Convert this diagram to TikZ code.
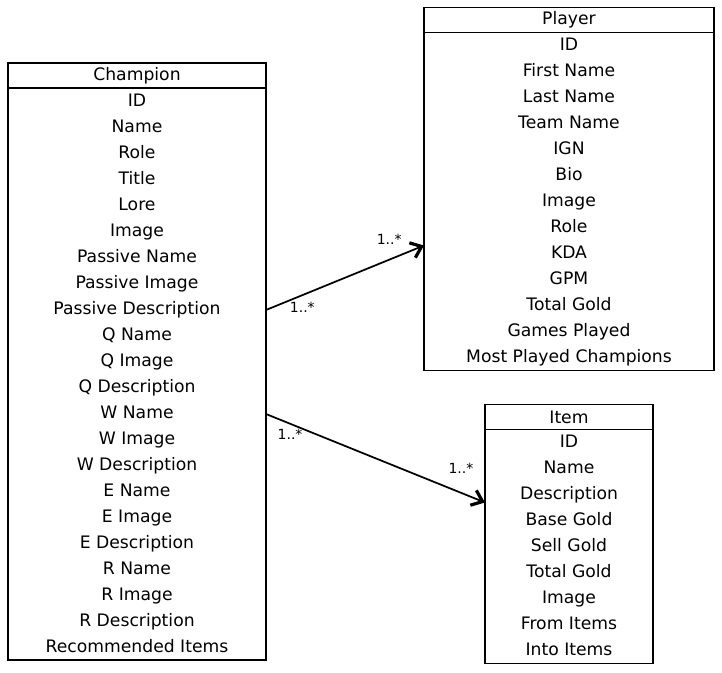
\documentclass[tikz,border=0pt]{standalone}
\usepackage{fontspec}
\setmainfont{DejaVu Sans}
\usepackage{tikz}
\usetikzlibrary{calc, positioning, arrows.meta}

\begin{document}
\begin{tikzpicture}[
    x=0.75pt, y=0.75pt,
    classhead/.style={draw, line width=1.1pt, minimum height=18.75pt,
      inner sep=0pt, outer sep=0pt, font=\fontsize{12.9}{19.5}\selectfont},
    classbody/.style={draw, line width=1.1pt, inner xsep=0pt, inner ysep=0pt,
      outer sep=0pt, align=center, font=\fontsize{12.9}{19.5}\selectfont},
    assoc/.style={line width=1.3pt, -{Straight Barb[length=7.5pt,width=12pt,line width=2.4pt]}},
    mult/.style={font=\fontsize{10.5}{12}\selectfont, inner sep=0pt},
    node distance=0pt,
  ]
    \useasboundingbox (0,0) rectangle (722,672);

    % classes
    \node[classhead, minimum width=193.5pt] (champion) at (137,596.5) {Champion};
    \node[classbody, minimum width=193.5pt, below=of champion] (championbody) {\strut ID\\Name\\Role\\Title\\Lore\\Image\\Passive Name\\Passive Image\\Passive Description\\Q Name\\Q Image\\Q Description\\W Name\\W Image\\W Description\\E Name\\E Image\\E Description\\R Name\\R Image\\R Description\\Recommended Items\strut};

    \node[classhead, minimum width=217.5pt] (player) at (569,652) {Player};
    \node[classbody, minimum width=217.5pt, below=of player] (playerbody) {\strut ID\\First Name\\Last Name\\Team Name\\IGN\\Bio\\Image\\Role\\KDA\\GPM\\Total Gold\\Games Played\\Most Played Champions\strut};

    \node[classhead, minimum width=126pt] (item) at (569,255) {Item};
    \node[classbody, minimum width=126pt, below=of item] (itembody) {\strut ID\\Name\\Description\\Base Gold\\Sell Gold\\Total Gold\\Image\\From Items\\Into Items\strut};

    % associations
    \draw[assoc] ([yshift=48pt]championbody.east) -- ([yshift=-33pt]playerbody.west)
      node[mult, pos=0.23, below=4.5pt] {1..*}
      node[mult, pos=0.78, above=11pt] {1..*};
    \draw[assoc] ([yshift=-30pt]championbody.east) -- ([yshift=33pt]itembody.west)
      node[mult, pos=0.11, below=3.75pt] {1..*}
      node[mult, pos=0.89, above=13.5pt] {1..*};
  \end{tikzpicture}
\end{document}
